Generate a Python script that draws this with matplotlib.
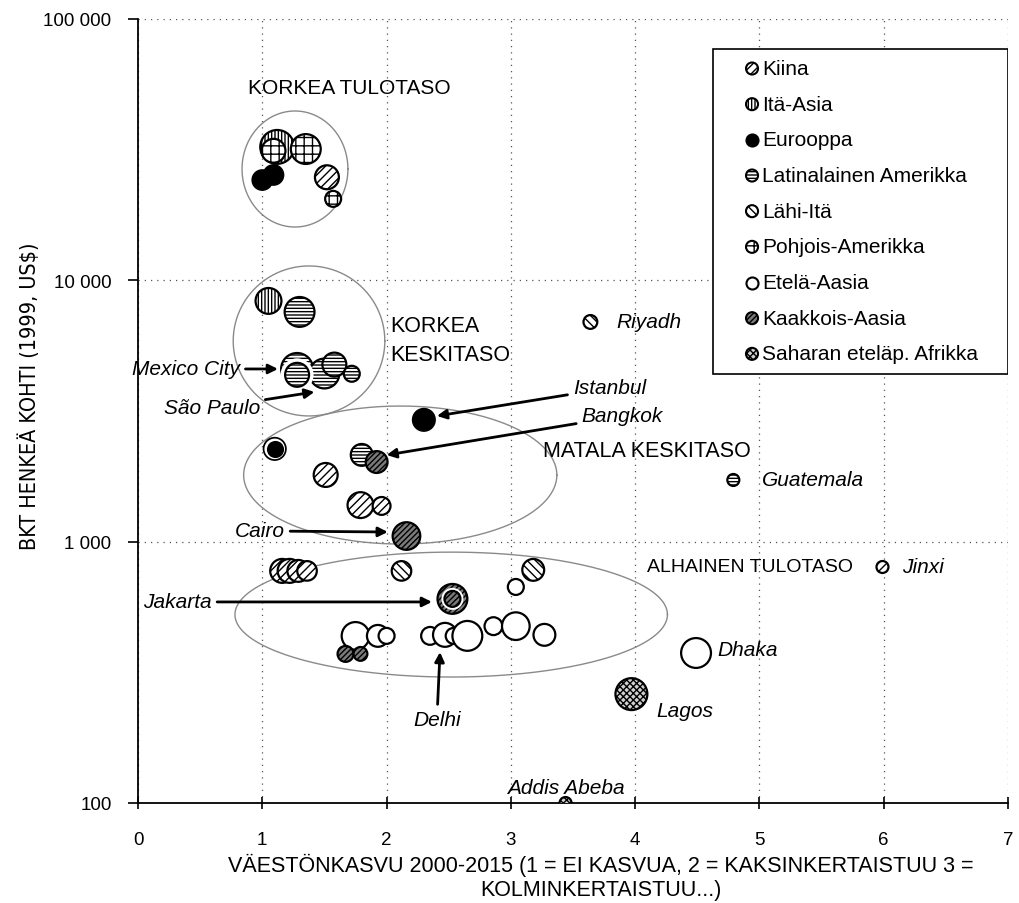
import numpy as np
import matplotlib.pyplot as plt
from matplotlib.patches import Rectangle
from matplotlib.ticker import FixedLocator, FuncFormatter, NullLocator

plt.rcParams['font.family'] = ['Liberation Sans', 'DejaVu Sans']
plt.rcParams['hatch.linewidth'] = 1.0

# data: population growth (x), GDP per capita 1999 (y), city size
kiina_x = [1.52, 1.51, 1.79, 1.96, 1.16, 1.22, 1.29, 1.36, 5.99]
kiina_y = [24800, 1800, 1380, 1370, 773, 773, 773, 773, 800]
kiina_pop = [9, 9, 10.5, 5, 9, 9, 7.5, 6, 2.25]

ita_x = [1.12, 1.05]
ita_y = [32400, 8340]
ita_pop = [18, 10.5]

euro_x = [1.00, 1.09, 2.30, 1.10]
euro_y = [24200, 25300, 2925, 2265]
euro_pop = [6, 6, 7.5, 7.5]

latin_x = [1.30, 1.28, 1.50, 1.58, 1.72, 1.80, 4.79]
latin_y = [7570, 4580, 4400, 4760, 4390, 2148, 1722]
latin_pop = [14, 16, 14, 9, 4, 7.5, 2.25]

lahi_x = [3.64, 2.12, 3.18]
lahi_y = [6930, 773, 780]
lahi_pop = [3, 6, 7.5]

pohjois_x = [1.09, 1.35, 1.57]
pohjois_y = [31300, 31800, 20500]
pohjois_pop = [9, 14, 4]

etela_x = [1.75, 1.93, 2.00, 2.35, 2.47, 2.54, 2.65, 2.86, 3.04, 3.27, 3.04, 4.49]
etela_y = [436, 436, 436, 436, 440, 436, 436, 475, 475, 440, 671, 375]
etela_pop = [12, 7.5, 4, 5, 9, 4, 14, 5, 12, 7.5, 4, 14]

kaakkois_x = [1.92, 2.16, 2.53, 1.67, 1.79]
kaakkois_y = [2017, 1051, 604, 372, 372]
kaakkois_pop = [7.5, 12, 14, 4, 3]

sahara_x = [3.97, 3.44]
sahara_y = [261, 100]
sahara_pop = [16, 2.25]

# smaller bubbles sitting on top of a bigger one of the same region
inner_region = ['Eurooppa', 'Kaakkois-Aasia', 'Latinalainen Amerikka']
inner_x = [1.10, 2.53, 1.28]
inner_y = [2265, 604, 4350]
inner_pop = [3.5, 4, 9]

regions = ['Kiina', 'Itä-Asia', 'Eurooppa', 'Latinalainen Amerikka', 'Lähi-Itä',
           'Pohjois-Amerikka', 'Etelä-Aasia', 'Kaakkois-Aasia', 'Saharan eteläp. Afrikka']
series = [(kiina_x, kiina_y, kiina_pop), (ita_x, ita_y, ita_pop), (euro_x, euro_y, euro_pop),
          (latin_x, latin_y, latin_pop), (lahi_x, lahi_y, lahi_pop),
          (pohjois_x, pohjois_y, pohjois_pop), (etela_x, etela_y, etela_pop),
          (kaakkois_x, kaakkois_y, kaakkois_pop), (sahara_x, sahara_y, sahara_pop)]
styles = {
    'Kiina': ('white', '////'),
    'Itä-Asia': ('white', '|||||'),
    'Eurooppa': ('black', None),
    'Latinalainen Amerikka': ('white', '-----'),
    'Lähi-Itä': ('white', '\\\\\\\\'),
    'Pohjois-Amerikka': ('white', '++'),
    'Etelä-Aasia': ('white', None),
    'Kaakkois-Aasia': ('#7a7a7a', '//////'),
    'Saharan eteläp. Afrikka': ('#d0d0d0', 'xxxxx'),
}
K = 33  # marker area (pt^2) per million people

fig = plt.figure(figsize=(10.19, 9.04), dpi=100)
ax = fig.add_axes([138 / 1019, 100 / 904, 870 / 1019, 784 / 904])
ax.set_yscale('log')
ax.set_xlim(0, 7)
ax.set_ylim(100, 100000)

# income group ellipses (drawn in log space)
ellipses = [(1.263, 4.426, 0.426, 0.222), (1.376, 3.768, 0.61, 0.287),
            (2.11, 3.255, 1.26, 0.264), (2.52, 2.721, 1.74, 0.239)]
t = np.linspace(0, 2 * np.pi, 300)
for cx, cy, a, b in ellipses:
    ax.plot(cx + a * np.cos(t), 10 ** (cy + b * np.sin(t)), color='#8a8a8a', lw=1.0, zorder=2)

for name, (xs, ys, pops) in zip(regions, series):
    fc, hatch = styles[name]
    ax.scatter(xs, ys, s=[p * K for p in pops], facecolor=fc, edgecolor='black',
               hatch=hatch, linewidths=1.6, label=name, zorder=3)

for name, x, y, p in zip(inner_region, inner_x, inner_y, inner_pop):
    fc, hatch = styles[name]
    ax.scatter([x], [y], s=[p * K * 1.9], facecolor='white', edgecolor='none', zorder=4)
    ax.scatter([x], [y], s=[p * K], facecolor=fc, edgecolor='black', hatch=hatch,
               linewidths=1.6, zorder=4)

# axes look
for side in ['top', 'right']:
    ax.spines[side].set_visible(False)
for side in ['left', 'bottom']:
    ax.spines[side].set_linewidth(1.3)
ax.yaxis.set_major_locator(FixedLocator([100, 1000, 10000, 100000]))
ax.yaxis.set_minor_locator(NullLocator())
ax.yaxis.set_major_formatter(FuncFormatter(lambda v, pos: f'{int(v):,}'.replace(',', ' ')))
ax.set_xticks(range(8))
ax.tick_params(axis='y', direction='out', length=7, width=1.2, labelsize=13.5, pad=12)
ax.tick_params(axis='x', direction='inout', length=8, width=1.2, labelsize=13.5, pad=16)
ax.grid(True, linestyle=(0, (1, 4)), color='#555555', linewidth=0.9)
ax.set_axisbelow(True)

ax.set_xlabel('VÄESTÖNKASVU 2000-2015 (1 = EI KASVUA, 2 = KAKSINKERTAISTUU 3 =\nKOLMINKERTAISTUU...)',
              fontsize=15.5, labelpad=4, linespacing=1.15)
ax.xaxis.label.set_x(0.532)
ax.set_ylabel('BKT HENKEÄ KOHTI (1999, US$)', fontsize=15.5,
              family='DejaVu Sans', fontstretch='condensed')
ax.yaxis.set_label_coords(-0.113, 0.52)

# group labels
ax.text(0.885, 54450, 'KORKEA TULOTASO', fontsize=15, va='center')
ax.text(2.03, 5910, 'KORKEA\nKESKITASO', fontsize=15.5, va='center', linespacing=1.45)
ax.text(3.26, 2223, 'MATALA KESKITASO', fontsize=15.5, va='center', zorder=5)
ax.text(4.095, 807, 'ALHAINEN TULOTASO', fontsize=14, va='center', zorder=5)

# city labels
city = dict(fontsize=15, style='italic', va='center', zorder=5)
ax.text(3.85, 6930, 'Riyadh', **city)
ax.text(5.02, 1722, 'Guatemala', **city)
ax.text(6.15, 800, 'Jinxi', **city)
ax.text(4.66, 385, 'Dhaka', **city)
ax.text(4.17, 225, 'Lagos', **city)
ax.text(3.44, 115, 'Addis Abeba', ha='center', **city)

arrow = dict(arrowstyle='-|>', color='black', lw=2, mutation_scale=14, shrinkA=2, shrinkB=0)
ax.annotate('Mexico City', xy=(1.126, 4580), xytext=(0.82, 4580), ha='right', arrowprops=arrow, **city)
ax.annotate('São Paulo', xy=(1.42, 3740), xytext=(0.98, 3247), ha='right', arrowprops=arrow, **city)
ax.annotate('Istanbul', xy=(2.405, 3027), xytext=(3.50, 3873), ha='left', arrowprops=arrow, **city)
ax.annotate('Bangkok', xy=(2.00, 2146), xytext=(3.57, 3027), ha='left', arrowprops=arrow, **city)
ax.annotate('Cairo', xy=(2.01, 1089), xytext=(1.18, 1099), ha='right', arrowprops=arrow, **city)
ax.annotate('Jakarta', xy=(2.365, 588), xytext=(0.04, 588), ha='left', arrowprops=arrow, **city)
ax.annotate('Delhi', xy=(2.43, 378), xytext=(2.405, 209), ha='center', arrowprops=arrow, **city)

# legend with a plain box
ax.add_patch(Rectangle((0.661, 0.547), 0.339, 0.4146, transform=ax.transAxes,
                       facecolor='white', edgecolor='black', lw=1.2, zorder=6))
leg = ax.legend(loc='upper left', bbox_to_anchor=(0.6974, 0.949), frameon=False,
                fontsize=15, borderpad=0, borderaxespad=0, handlelength=0.7,
                handletextpad=0.15, labelspacing=0.8, scatterpoints=1)
leg.set_zorder(7)
for h in leg.legend_handles:
    h.set_sizes([75])
    h.set_linewidth(1.5)

fig.savefig('out.png', dpi=100)
